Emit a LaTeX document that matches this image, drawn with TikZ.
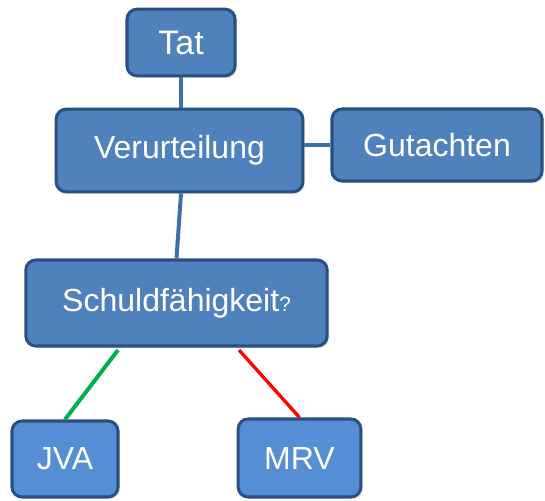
\documentclass[tikz,border=0pt]{standalone}
\usepackage{fontspec}
\setmainfont{Liberation Sans}
\usetikzlibrary{shadows}
\definecolor{boxblue}{HTML}{4F81BD}
\definecolor{leafblue}{HTML}{558ED5}
\definecolor{boxline}{HTML}{2A5082}
\definecolor{linkblue}{HTML}{3F6FA8}
\definecolor{okgreen}{HTML}{00B050}
\begin{document}
\begin{tikzpicture}[x=0.75pt,y=0.75pt,yscale=-1,xscale=1,
  box/.style={draw=boxline, line width=2.3pt, fill=boxblue, rounded corners=7.5pt, inner sep=0pt,
    text=white, font=\fontsize{24}{28}\selectfont,
    drop shadow={opacity=0.18, shadow xshift=1.5pt, shadow yshift=-1.5pt}},
  leaf/.style={box, fill=leafblue},
  link/.style={draw=linkblue, line width=3pt}]
%set diagram size to 545 x 500
\useasboundingbox (0,0) rectangle (545,500);

% Text Node
\node [box, minimum width=81pt, minimum height=50pt, font=\fontsize{25.5}{30}\selectfont] (tat) at (181,42.5) {Tat};
% Text Node
\node [box, minimum width=185pt, minimum height=62pt] (verurteilung) at (179.5,150.5) {Verurteilung};
% Text Node
\node [box, minimum width=157.5pt, minimum height=54pt] (gutachten) at (437,145) {Gutachten};
% Text Node
\node [box, minimum width=226pt, minimum height=64.5pt] (schuld) at (176.5,303) {Schuldfähigkeit{\fontsize{15.5}{18}\selectfont ?}};
% Text Node
\node [leaf, minimum width=79.5pt, minimum height=57pt] (jva) at (65,459) {JVA};
% Text Node
\node [leaf, minimum width=92pt, minimum height=58.5pt] (mrv) at (299.5,458) {MRV};

%Shape: Lines
\draw [link] (tat.south) -- (tat.south |- verurteilung.north);
\draw [link] (gutachten.west -| verurteilung.east) -- (gutachten.west);
\draw [link] (tat.south |- verurteilung.south) -- (schuld.north);

\coordinate (gstart) at (118,350);
\coordinate (rstart) at (239,350);
\draw [okgreen, line width=3pt] (gstart) -- (jva.north);
\draw [red, line width=2.5pt] (rstart) -- (mrv.north);
\end{tikzpicture}
\end{document}
